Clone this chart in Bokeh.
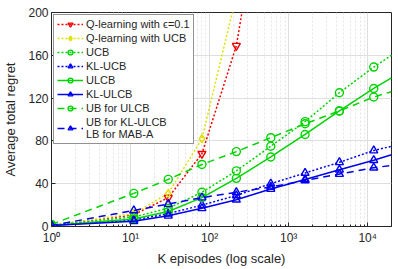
from bokeh.plotting import figure
from bokeh.models import FixedTicker, Legend, LegendItem
from bokeh.embed import file_html
from bokeh.resources import INLINE

# ---- data ----
episodes = [1, 11, 30, 80, 218, 594, 1614, 4387, 11924]
episodes_end = 20000

q_eps = [1, 11, 27, 68, 169, 360]
q_ucb = [1, 12, 31, 82, 216]
ucb = [1, 9, 17, 32, 52, 75, 98, 125, 149]
ucb_end = 160
kl_ucb = [1, 6, 12, 20, 29, 40, 50, 60, 71]
kl_ucb_end = 75
ulcb = [1, 7, 14, 27, 45, 65, 86, 108, 129]
ulcb_end = 139
kl_ulcb = [1, 5, 10, 17, 25, 35, 44, 53, 62]
kl_ulcb_end = 67
ub_ulcb = [2, 31, 44, 58, 70, 83, 96, 108, 121]
ub_ulcb_end = 126
ub_kl_ulcb = [1, 15, 21, 27, 32, 37, 43, 49, 55]
ub_kl_ulcb_end = 57

labels = ["Q-learning with \u03f5=0.1", "Q-learning with UCB", "UCB", "KL-UCB",
          "ULCB", "KL-ULCB", "UB for ULCB", "UB for KL-ULCB\nLB for MAB-A"]
x_ticks = [1, 10, 100, 1000, 10000]
x_tick_labels = ["10\u2070", "10\u00b9", "10\u00b2", "10\u00b3", "10\u2074"]
y_ticks = [0, 40, 80, 120, 160, 200]

FONT = "Liberation Sans"
TXT = "#262626"
RED = "#ee0000"
YEL = "#e0e000"
GRN = "#00d400"
BLU = "#0000ee"

p = figure(width=398, height=269, x_axis_type="log", x_range=(1, 20000),
           y_range=(0, 200), output_backend="svg", toolbar_location=None,
           min_border_left=51, min_border_right=7, min_border_top=12,
           min_border_bottom=43)
p.background_fill_color = "white"
p.outline_line_color = TXT
p.outline_line_width = 1

minor = [m * d for d in [1, 10, 100, 1000, 10000] for m in range(2, 10) if m * d <= 20000]
p.xaxis.ticker = FixedTicker(ticks=x_ticks, minor_ticks=minor)
p.yaxis.ticker = FixedTicker(ticks=y_ticks)
p.xaxis.major_label_overrides = {t: l for t, l in zip(x_ticks, x_tick_labels)}

for ax in (p.xaxis, p.yaxis):
    ax.axis_line_color = TXT
    ax.major_tick_line_color = TXT
    ax.minor_tick_line_color = TXT
    ax.major_tick_in = 4
    ax.major_tick_out = 0
    ax.minor_tick_in = 2
    ax.minor_tick_out = 0
    ax.major_label_text_font = FONT
    ax.major_label_text_font_size = "12px"
    ax.major_label_text_color = TXT
    ax.axis_label_text_font = FONT
    ax.axis_label_text_font_size = "13px"
    ax.axis_label_text_font_style = "normal"
    ax.axis_label_text_color = TXT
p.yaxis.minor_tick_line_color = None
p.xaxis.major_label_standoff = 4
p.yaxis.major_label_standoff = 3
p.xaxis.axis_label_standoff = 3
p.yaxis.axis_label_standoff = 7
p.xaxis.axis_label = "K episodes (log scale)"
p.yaxis.axis_label = "Average total regret"

p.xgrid.grid_line_color = "#dedede"
p.xgrid.minor_grid_line_color = "#e6e6e6"
p.xgrid.minor_grid_line_dash = "2 2"
p.ygrid.grid_line_color = "#dedede"

DOT = "2 2"
DASH = "7 5"

def series(xs, ys, color, dash, marker, xl=None, yl=None):
    lx = xs if xl is None else xl
    ly = ys if yl is None else yl
    lr = p.line(lx, ly, line_color=color, line_width=1.5, line_dash=dash)
    mr = p.scatter(xs, ys, marker=marker, size=8, line_color=color,
                   fill_color=None, line_width=1.4)
    return [lr, mr]

r = []
r.append(series(episodes[:len(q_eps)], q_eps, RED, DOT, "inverted_triangle"))
r.append(series(episodes[:len(q_ucb)], q_ucb, YEL, DOT, "diamond"))
r.append(series(episodes, ucb, GRN, DOT, "circle", episodes + [episodes_end], ucb + [ucb_end]))
r.append(series(episodes, kl_ucb, BLU, DOT, "triangle", episodes + [episodes_end], kl_ucb + [kl_ucb_end]))
r.append(series(episodes, ulcb, GRN, "solid", "circle", episodes + [episodes_end], ulcb + [ulcb_end]))
r.append(series(episodes, kl_ulcb, BLU, "solid", "triangle", episodes + [episodes_end], kl_ulcb + [kl_ulcb_end]))
r.append(series(episodes, ub_ulcb, GRN, DASH, "circle", episodes + [episodes_end], ub_ulcb + [ub_ulcb_end]))
r.append(series(episodes, ub_kl_ulcb, BLU, DASH, "triangle", episodes + [episodes_end], ub_kl_ulcb + [ub_kl_ulcb_end]))

legend = Legend(items=[LegendItem(label=lab, renderers=rr) for lab, rr in zip(labels, r)],
                location="top_left", margin=2, padding=3, spacing=2,
                glyph_width=26, glyph_height=12, label_height=12,
                label_standoff=3, label_text_font=FONT,
                label_text_font_size="11px", label_text_color=TXT,
                border_line_color=TXT, border_line_width=1,
                background_fill_color="white", background_fill_alpha=1)
p.add_layout(legend)

open("out.html", "w").write(file_html(p, INLINE))
